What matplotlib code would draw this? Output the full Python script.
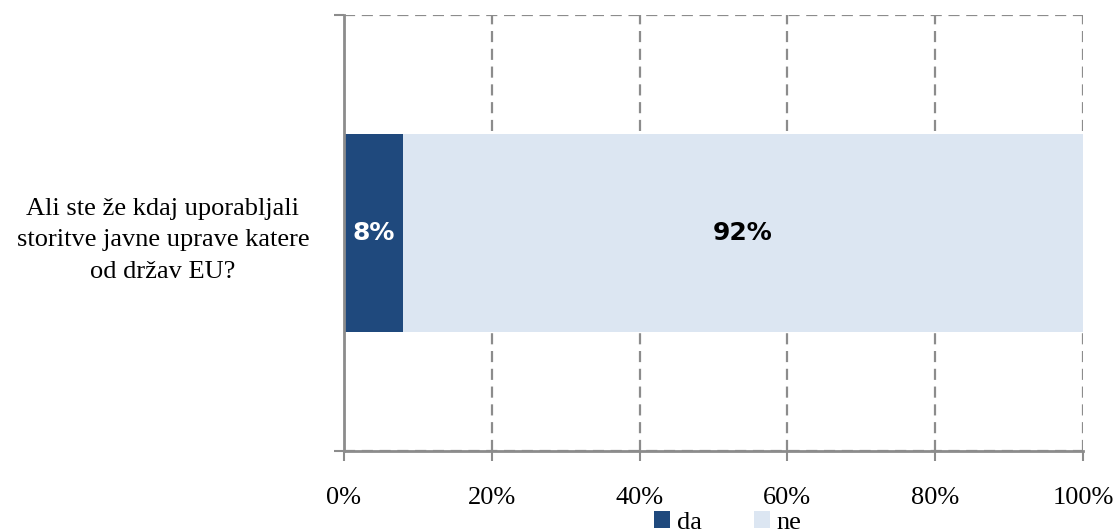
import matplotlib.pyplot as plt
from matplotlib.patches import Patch

# data
question = 'Ali ste že kdaj uporabljali\nstoritve javne uprave katere\nod držav EU?'
series_names = ['da', 'ne']
series_values = [8, 92]
series_colors = ['#1F497D', '#DCE6F2']
label_colors = ['white', 'black']
x_ticks = [0, 20, 40, 60, 80, 100]

fig = plt.figure(figsize=(11.15, 5.32), dpi=100)
ax = fig.add_axes([0.3085, 0.1523, 0.6628, 0.8195])

serif = 'Liberation Serif'
grid_col = '#8C8C8C'

left = 0
for name, val, col, lc in zip(series_names, series_values, series_colors, label_colors):
    ax.barh(0, val, left=left, height=0.454, color=col, zorder=3, label=name)
    ax.text(left + val / 2, 0, f'{val}%', ha='center', va='center',
            color=lc, fontsize=18, fontweight='bold', family='DejaVu Sans', zorder=4)
    left += val

ax.set_xlim(0, 100)
ax.set_ylim(-0.5, 0.5)

ax.set_xticks(x_ticks)
ax.set_xticklabels([f'{t}%' for t in x_ticks], family=serif, fontsize=19)
ax.set_yticks([-0.5, 0.5])
ax.set_yticklabels(['', ''])
ax.set_yticks([0], minor=True)
ax.set_yticklabels([question], minor=True, family=serif, fontsize=19,
                   multialignment='center', linespacing=1.55)
ax.tick_params(axis='y', which='minor', length=0, pad=25)
ax.tick_params(axis='y', which='major', length=7, width=1.5, color=grid_col)
ax.tick_params(axis='x', length=7, width=1.5, color=grid_col, pad=19)

ax.grid(True, which='major', color=grid_col, linestyle=(0, (5, 3)), linewidth=1.6, zorder=0)
for s in ['top', 'right']:
    ax.spines[s].set_visible(False)
for s in ['left', 'bottom']:
    ax.spines[s].set_color(grid_col)
    ax.spines[s].set_linewidth(2)
    ax.spines[s].set_zorder(5)

handles = [Patch(facecolor=c, label=n) for n, c in zip(series_names, series_colors)]
fig.legend(handles=handles, loc='center', bbox_to_anchor=(0.653, 0.018), ncol=2,
           frameon=False, prop={'family': serif, 'size': 19},
           handlelength=0.6, handleheight=0.6, handletextpad=0.25, columnspacing=2.0,
           borderpad=0)

fig.savefig('out.png', dpi=100)
